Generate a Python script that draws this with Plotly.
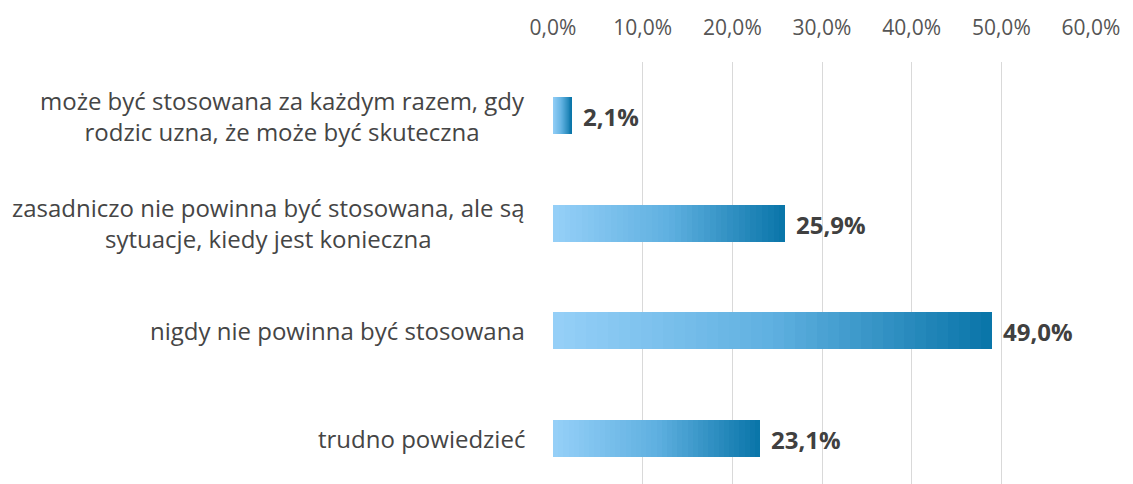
import plotly.graph_objects as go

categories = [
    "może być stosowana za każdym razem, gdy<br>rodzic uzna, że może być skuteczna",
    "zasadniczo nie powinna być stosowana, ale są<br>sytuacje, kiedy jest konieczna",
    "nigdy nie powinna być stosowana",
    "trudno powiedzieć",
]
values = [2.1, 25.9, 49.0, 23.1]
tick_values = [0, 10, 20, 30, 40, 50, 60]
tick_labels = ["0,0%", "10,0%", "20,0%", "30,0%", "40,0%", "50,0%", "60,0%"]

keys = [f"c{i}" for i in range(len(categories))]

# gradient stops (left light -> right dark)
stops = [(0.0, (150, 208, 248)), (0.5, (95, 176, 224)), (1.0, (8, 116, 168))]


def grad_color(t):
    for (t0, c0), (t1, c1) in zip(stops[:-1], stops[1:]):
        if t <= t1:
            f = (t - t0) / (t1 - t0)
            return "rgb(%d,%d,%d)" % tuple(round(a + (b - a) * f) for a, b in zip(c0, c1))
    return "rgb(%d,%d,%d)" % stops[-1][1]


N = 40
fig = go.Figure()
for k in range(N):
    fig.add_trace(go.Bar(
        y=keys,
        x=[v / N for v in values],
        orientation="h",
        width=0.345,
        marker=dict(color=grad_color((k + 0.5) / N), line=dict(width=0)),
        hoverinfo="skip",
        showlegend=False,
    ))

for key, v in zip(keys, values):
    fig.add_annotation(
        xref="x", yref="y", x=v, y=key,
        text=f"{v:.1f}".replace(".", ",") + "%",
        showarrow=False, xanchor="left", yanchor="middle",
        xshift=9, yshift=-1,
        font=dict(family="Open Sans", size=24, color="#404040", weight="bold"),
    )

for key, label in zip(keys, categories):
    fig.add_annotation(
        xref="paper", yref="y", x=0, y=key,
        text=label, showarrow=False,
        xanchor="right", yanchor="middle", align="center",
        xshift=-26,
        font=dict(family="Open Sans", size=24, color="#454545"),
    )

fig.update_layout(
    width=1133, height=484,
    margin=dict(l=545, r=50, t=54, b=0),
    barmode="stack",
    bargap=0,
    plot_bgcolor="white",
    paper_bgcolor="white",
    xaxis=dict(
        side="top",
        range=[0, 60],
        tickvals=tick_values,
        ticktext=tick_labels,
        showgrid=True,
        gridcolor="#d9d9d9",
        gridwidth=1,
        zeroline=False,
        showline=False,
        ticks="",
        ticklabelstandoff=22,
        tickfont=dict(family="Open Sans", size=21, color="#555555"),
        fixedrange=True,
    ),
    yaxis=dict(
        type="category",
        categoryorder="array",
        categoryarray=keys,
        range=[3.5, -0.5],
        showticklabels=False,
        showgrid=False,
        zeroline=False,
        showline=False,
        fixedrange=True,
    ),
)

fig.write_html("out.html")
